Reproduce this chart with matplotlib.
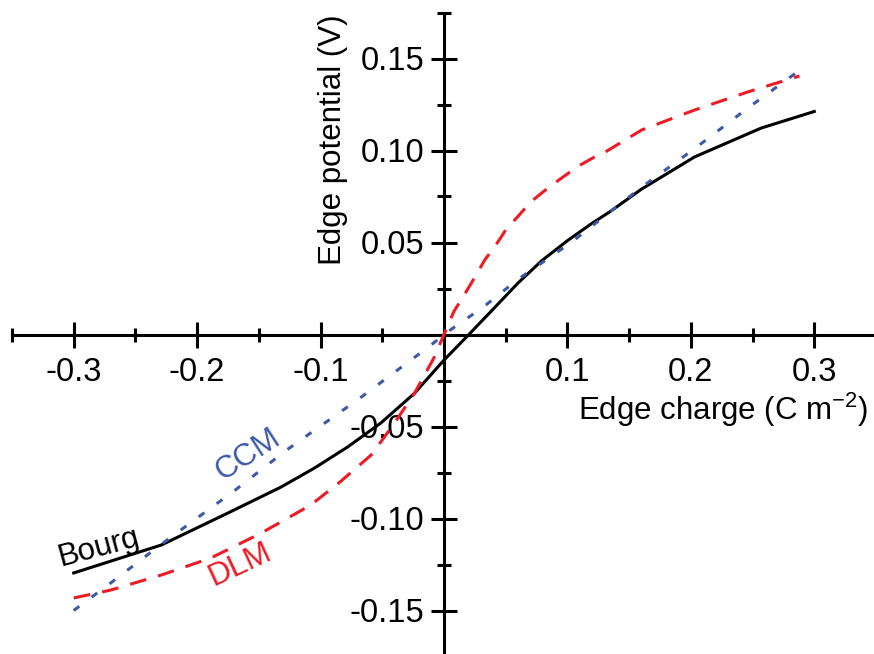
import matplotlib
matplotlib.use('Agg')

import matplotlib.pyplot as plt
from matplotlib.ticker import MultipleLocator, FixedLocator

plt.rcParams['font.family'] = ['Liberation Sans', 'DejaVu Sans']
plt.rcParams['mathtext.fontset'] = 'custom'
plt.rcParams['mathtext.rm'] = 'Liberation Sans'
plt.rcParams['mathtext.it'] = 'Liberation Sans'

# values
bourg_x = [-0.300, -0.229, -0.175, -0.132, -0.105, -0.078, -0.051, -0.024, 0.000,
           0.018, 0.038, 0.060, 0.079, 0.100, 0.119, 0.135, 0.160, 0.203, 0.257, 0.300]
bourg_y = [-0.1296, -0.1144, -0.0970, -0.0829, -0.0726, -0.0611, -0.0480, -0.0320, -0.0139,
           -0.0015, 0.0125, 0.0280, 0.0400, 0.0510, 0.0600, 0.0670, 0.0790, 0.0965, 0.1122, 0.1212]

ccm_x = [-0.300, -0.270, -0.227, -0.170, -0.128, -0.069, -0.041, -0.011, 0.002,
         0.032, 0.060, 0.103, 0.160, 0.203, 0.246, 0.291]
ccm_y = [-0.150, -0.135, -0.113, -0.085, -0.063, -0.035, -0.021, -0.006, 0.001,
         0.015, 0.030, 0.050, 0.080, 0.101, 0.123, 0.145]

dlm_x = [-0.300, -0.270, -0.229, -0.189, -0.148, -0.108, -0.084, -0.059, -0.041,
         -0.024, -0.008, 0.000, 0.008, 0.018, 0.026, 0.033, 0.042, 0.050, 0.061,
         0.0705, 0.084, 0.095, 0.108, 0.122, 0.131, 0.160, 0.203, 0.246, 0.288]
dlm_y = [-0.1432, -0.1389, -0.1307, -0.1215, -0.1079, -0.0927, -0.0800, -0.0655, -0.0490,
         -0.0320, -0.0125, 0.0000, 0.0125, 0.0233, 0.0323, 0.0405, 0.0486, 0.0568, 0.0650,
         0.0722, 0.0795, 0.0849, 0.0912, 0.0965, 0.0993, 0.1111, 0.1220, 0.1318, 0.1405]

x_ticks = [-0.3, -0.2, -0.1, 0.1, 0.2, 0.3]
x_labels = ['-0.3', '-0.2', '-0.1', '0.1', '0.2', '0.3']
y_ticks = [-0.15, -0.10, -0.05, 0.05, 0.10, 0.15]
y_labels = ['-0.15', '-0.10', '-0.05', '0.05', '0.10', '0.15']

blue = '#3d5aa9'
red = '#ed1c24'
fs = 23.5
fs_lab = 22.5
lw = 2.2

fig = plt.figure(figsize=(8.74, 6.54), dpi=100)
ax = fig.add_axes([12 / 874, -2.5 / 654, 864 / 874, 644 / 654])
ax.set_xlim(-0.35, 0.35)
ax.set_ylim(-0.175, 0.175)

ax.plot(bourg_x, bourg_y, color='black', lw=lw, zorder=3, solid_joinstyle='round')
ax.plot(ccm_x, ccm_y, color=blue, lw=lw, dashes=(2.3, 5.0), zorder=3)
ax.plot(dlm_x, dlm_y, color=red, lw=lw, dashes=(5.5, 4.0), zorder=3)

# axes crossing at the origin
for s in ['top', 'right']:
    ax.spines[s].set_visible(False)
ax.spines['left'].set_position('zero')
ax.spines['bottom'].set_position('zero')
ax.spines['left'].set_linewidth(lw)
ax.spines['bottom'].set_linewidth(lw)

ax.xaxis.set_major_locator(FixedLocator(x_ticks))
ax.xaxis.set_minor_locator(MultipleLocator(0.05))
ax.yaxis.set_major_locator(FixedLocator(y_ticks))
ax.yaxis.set_minor_locator(MultipleLocator(0.025))
ax.set_xticklabels(x_labels)
ax.set_yticklabels(y_labels)
ax.tick_params(which='major', direction='inout', length=19, width=lw, labelsize=fs)
ax.tick_params(which='minor', direction='inout', length=10, width=lw)
ax.tick_params(axis='x', which='major', pad=7)
ax.tick_params(axis='y', which='major', pad=4.5)

ax.text(0.344, -0.041, 'Edge charge (C m$^{-2}$)', fontsize=fs_lab, ha='right', va='center')
ax.text(-0.090, 0.1057, 'Edge potential (V)', fontsize=fs_lab, rotation=90,
        ha='center', va='center')

ax.text(-0.280, -0.116, 'Bourg', fontsize=fs_lab, rotation=15, ha='center', va='center')
ax.text(-0.159, -0.0655, 'CCM', fontsize=fs_lab, rotation=33, ha='center', va='center',
        color=blue)
ax.text(-0.165, -0.125, 'DLM', fontsize=fs_lab, rotation=25, ha='center', va='center',
        color=red)

fig.savefig('out.png', dpi=100)
